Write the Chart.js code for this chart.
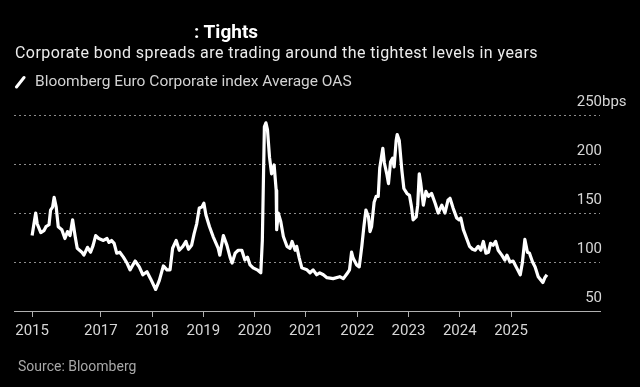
<!DOCTYPE html>
<html>
<head>
<meta charset="utf-8">
<script src="https://cdn.jsdelivr.net/npm/chart.js@4.4.1/dist/chart.umd.min.js"></script>
<style>
  html, body { margin: 0; padding: 0; background: #000; }
  #wrap { position: relative; width: 640px; height: 387px; background: #000; overflow: hidden; font-family: Roboto, "Open Sans", sans-serif; }
  #wrap canvas { position: absolute; left: 0; top: 0; }
  .t { position: absolute; white-space: nowrap; line-height: 1; }
  #title { left: 194px; top: 22px; font-size: 19px; font-weight: bold; color: #fff; }
  #sub { left: 15px; top: 44.5px; font-size: 16px; letter-spacing: 0.42px; color: #ececec; }
  #leg { left: 35px; top: 74px; font-size: 15.5px; color: #d2d2d2; }
  #src { left: 18px; top: 359px; font-size: 14px; color: #a8a8a8; filter: blur(0.7px); }
  #slash { position: absolute; left: 14px; top: 75px; }
</style>
</head>
<body>
<div id="wrap">
  <canvas id="c" width="640" height="387"></canvas>
  <div class="t" id="title">: Tights</div>
  <div class="t" id="sub">Corporate bond spreads are trading around the tightest levels in years</div>
  <svg id="slash" width="14" height="14"><line x1="2.5" y1="12" x2="10" y2="2.5" stroke="#fff" stroke-width="3" stroke-linecap="round"/></svg>
  <div class="t" id="leg">Bloomberg Euro Corporate index Average OAS</div>
  <div class="t" id="src">Source: Bloomberg</div>
</div>
<script>
// Dates as decimal years, values in bps
const dates = [
  2015.66,2015.73,2015.76,2015.83,2015.89,2015.93,2015.99,2016.02,2016.06,2016.09,
  2016.13,2016.17,2016.24,2016.30,2016.35,2016.40,2016.45,2016.50,2016.54,2016.63,
  2016.67,2016.74,2016.80,2016.85,2016.90,2016.96,2017.05,2017.12,2017.16,2017.21,
  2017.26,2017.31,2017.37,2017.44,2017.51,2017.57,2017.67,2017.75,2017.82,2017.90,
  2017.97,2018.07,2018.14,2018.22,2018.29,2018.35,2018.40,2018.47,2018.53,2018.60,
  2018.66,2018.71,2018.77,2018.82,2018.87,2018.92,2018.97,2019.01,2019.05,2019.12,
  2019.19,2019.29,2019.32,2019.39,2019.46,2019.52,2019.56,2019.62,2019.68,2019.75,
  2019.81,2019.86,2019.91,2019.97,2020.05,2020.12,2020.15,2020.19,2020.22,2020.25,
  2020.29,2020.33,2020.38,2020.42,2020.43,2020.46,2020.51,2020.56,2020.63,2020.69,
  2020.73,2020.79,2020.82,2020.87,2020.92,2021.02,2021.08,2021.14,2021.21,2021.27,
  2021.34,2021.41,2021.53,2021.66,2021.73,2021.80,2021.85,2021.89,2021.92,2021.99,
  2022.04,2022.09,2022.13,2022.17,2022.22,2022.25,2022.28,2022.33,2022.37,2022.41,
  2022.44,2022.50,2022.53,2022.58,2022.61,2022.65,2022.69,2022.72,2022.76,2022.78,
  2022.82,2022.87,2022.91,2022.97,2023.02,2023.06,2023.09,2023.15,2023.18,2023.21,
  2023.24,2023.29,2023.34,2023.39,2023.45,2023.52,2023.58,2023.65,2023.71,2023.77,
  2023.81,2023.87,2023.94,2023.99,2024.02,2024.07,2024.12,2024.19,2024.25,2024.30,
  2024.36,2024.41,2024.46,2024.51,2024.56,2024.60,2024.65,2024.70,2024.75,2024.82,
  2024.88,2024.92,2024.98,2025.04,2025.11,2025.18,2025.22,2025.27,2025.32,2025.36,
  2025.42,2025.47,2025.53,2025.62,2025.66,2025.70
];
const oas = [
  127,150,139,130,132,136,138,153,156,166,
  156,136,133,124,131,127,143,126,114,110,
  107,115,110,117,127,124,122,124,120,122,
  119,109,110,105,99,92,101,95,87,90,
  83,72,81,96,92,92,114,122,112,116,
  121,113,117,129,139,155,156,160,148,136,
  126,114,107,127,117,105,99,109,112,112,
  102,105,97,94,92,89,122,238,242,235,
  207,190,199,173,133,150,141,126,116,114,
  121,112,116,104,94,92,89,92,87,89,
  87,84,83,85,83,88,92,110,104,97,
  95,116,136,153,146,131,136,161,167,167,
  196,216,201,189,180,202,206,197,224,230,
  224,194,175,170,168,156,143,146,158,190,
  180,158,172,167,170,160,150,158,150,163,
  165,155,145,143,145,133,126,116,113,112,
  116,112,121,109,110,119,117,121,112,107,
  102,107,100,101,94,87,99,123,110,109,
  100,95,85,79,84,87
];
const xTickValues = [2015.66, 2017, 2018, 2019, 2020, 2021, 2022, 2023, 2024, 2025];
const xTickLabels = ["2015","2017","2018","2019","2020","2021","2022","2023","2024","2025"];
const yTickValues = [50, 100, 150, 200, 250];
const yTickLabels = ["50", "100", "150", "200", "250"];
const yUnit = "bps";

const yLabelPlugin = {
  id: 'yLabels',
  afterDraw(chart) {
    const ctx = chart.ctx;
    const y = chart.scales.y;
    const xr = chart.chartArea.right + 2;
    ctx.save();
    ctx.font = '15px Roboto, "Open Sans", sans-serif';
    ctx.fillStyle = '#d6d6d6';
    ctx.textBaseline = 'alphabetic';
    yTickValues.forEach((v, i) => {
      const py = y.getPixelForValue(v) - 9;
      ctx.textAlign = 'right';
      ctx.fillText(yTickLabels[i], xr, py);
      if (i === yTickValues.length - 1) {
        ctx.textAlign = 'left';
        ctx.fillText(yUnit, xr, py);
      }
    });
    ctx.restore();
  }
};

new Chart(document.getElementById('c'), {
  type: 'line',
  data: {
    datasets: [{
      data: dates.map((d, i) => ({ x: d, y: oas[i] })),
      borderColor: '#ffffff',
      borderWidth: 3.2,
      pointRadius: 0,
      tension: 0,
      fill: false,
      borderJoinStyle: 'round'
    }]
  },
  options: {
    responsive: false,
    animation: false,
    devicePixelRatio: 1,
    layout: { padding: { left: 14, right: 40, top: 115, bottom: 0 } },
    plugins: { legend: { display: false }, tooltip: { enabled: false }, title: { display: false } },
    scales: {
      x: {
        type: 'linear',
        min: 2015.307,
        max: 2026.735,
        afterBuildTicks: (s) => { s.ticks = xTickValues.map(v => ({ value: v })); },
        afterFit: (s) => { s.height = 76; },
        ticks: {
          autoSkip: false,
          maxRotation: 0,
          padding: 5,
          color: '#d6d6d6',
          font: { family: 'Roboto, "Open Sans", sans-serif', size: 15 },
          callback: (v, i) => xTickLabels[i]
        },
        grid: { drawOnChartArea: false, drawTicks: true, tickLength: 6, color: '#b0b0b0', lineWidth: 1 },
        border: { display: true, color: '#b0b0b0', width: 1 }
      },
      y: {
        position: 'right',
        min: 50,
        max: 250,
        afterBuildTicks: (s) => { s.ticks = yTickValues.map(v => ({ value: v })); },
        ticks: { display: false },
        grid: {
          drawTicks: false,
          color: (c) => (c.tick && c.tick.value === 50) ? 'rgba(0,0,0,0)' : '#8c8c8c',
          lineWidth: 1
        },
        border: { display: false, dash: [2, 3] }
      }
    }
  },
  plugins: [yLabelPlugin]
});
</script>
</body>
</html>
